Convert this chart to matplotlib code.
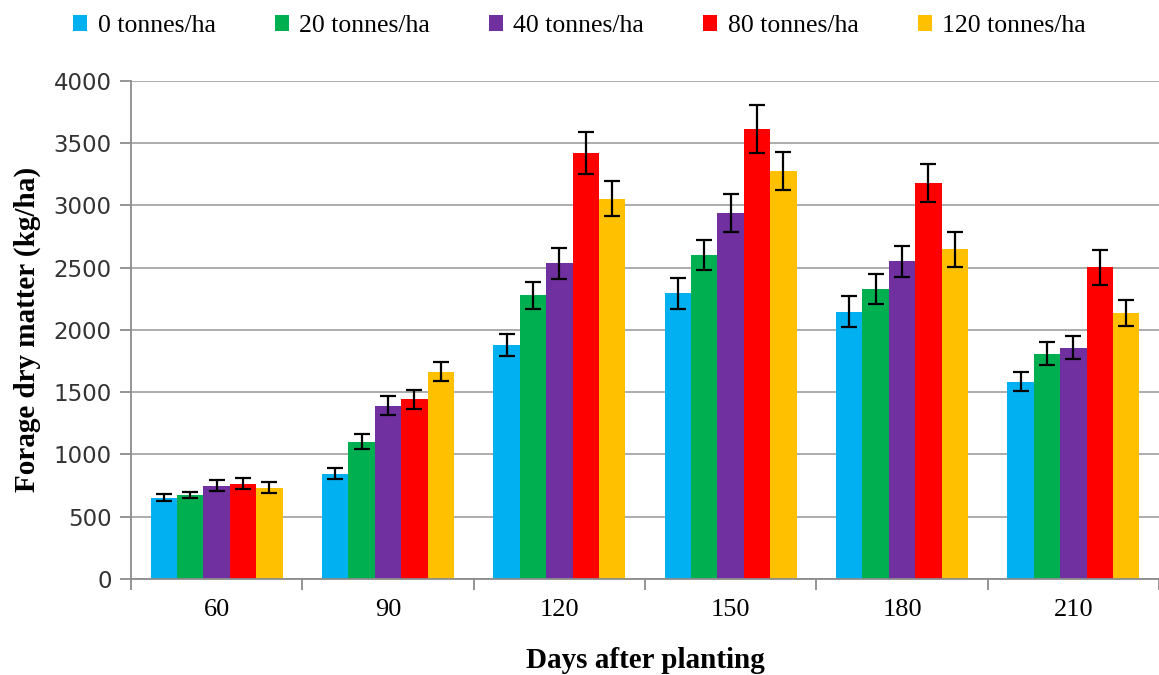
import numpy as np
import matplotlib
matplotlib.use("Agg")
import matplotlib.pyplot as plt
from matplotlib.ticker import FixedLocator

# values
days = ["60", "90", "120", "150", "180", "210"]
rates = ["0 tonnes/ha", "20 tonnes/ha", "40 tonnes/ha", "80 tonnes/ha", "120 tonnes/ha"]
colors = ["#00B0F0", "#00B050", "#7030A0", "#FF0000", "#FFC000"]

dm_0 = [655, 846, 1880, 2292, 2147, 1585]
dm_20 = [672, 1103, 2276, 2597, 2327, 1810]
dm_40 = [750, 1392, 2535, 2937, 2549, 1858]
dm_80 = [766, 1443, 3419, 3612, 3178, 2503]
dm_120 = [733, 1665, 3050, 3275, 2648, 2134]

err_0 = [28, 45, 90, 125, 125, 78]
err_20 = [25, 60, 105, 120, 120, 95]
err_40 = [45, 75, 125, 150, 125, 90]
err_80 = [45, 75, 170, 190, 155, 140]
err_120 = [45, 78, 140, 155, 140, 105]

series = [dm_0, dm_20, dm_40, dm_80, dm_120]
errors = [err_0, err_20, err_40, err_80, err_120]

serif = ["Liberation Serif", "DejaVu Serif"]

fig = plt.figure(figsize=(11.59, 6.75), dpi=100)
ax = fig.add_axes([0.113, 0.142, 0.887, 0.7387])

x = np.arange(len(days))
w = 0.154
for i, (vals, errs) in enumerate(zip(series, errors)):
    pos = x + (i - 2) * w
    ax.bar(pos, vals, width=w, color=colors[i], label=rates[i], zorder=2)
    ax.errorbar(pos, vals, yerr=errs, fmt="none", ecolor="black",
                elinewidth=1.6, capsize=5.8, capthick=1.6, zorder=3)

ax.set_xlim(-0.5, len(days) - 0.5)
ax.set_ylim(0, 4000)
ax.set_yticks(np.arange(0, 4001, 500))
ax.yaxis.grid(True, color="#a6a6a6", linewidth=1.3, zorder=0)
ax.set_axisbelow(True)

# category labels centred, tick marks at group boundaries
ax.set_xticks(x)
ax.set_xticklabels(days, family=serif, fontsize=19)
ax.xaxis.set_minor_locator(FixedLocator(np.arange(-0.5, len(days), 1.0)))
ax.tick_params(axis="x", which="major", length=0, pad=14)
ax.tick_params(axis="x", which="minor", length=8, width=1.3, color="#8c8c8c")
ax.tick_params(axis="y", length=8, width=1.3, color="#8c8c8c", labelsize=16.5, pad=6)
for lab in ax.get_yticklabels():
    lab.set_color("#333333")

for side in ["top", "right"]:
    ax.spines[side].set_visible(False)
for side in ["left", "bottom"]:
    ax.spines[side].set_color("#8c8c8c")
    ax.spines[side].set_linewidth(1.3)

ax.set_xlabel("Days after planting", family=serif, fontsize=21,
              fontweight="bold", labelpad=19)
ax.set_ylabel("Forage dry matter (kg/ha)", family=serif, fontsize=21,
              fontweight="bold", labelpad=9)

fig.legend(loc="upper center", bbox_to_anchor=(0.5, 1.012), ncol=5,
           frameon=False, prop={"family": serif, "size": 18.5},
           handlelength=0.55, handleheight=0.55, handletextpad=0.4,
           columnspacing=2.3)

fig.savefig("out.png", dpi=100)
